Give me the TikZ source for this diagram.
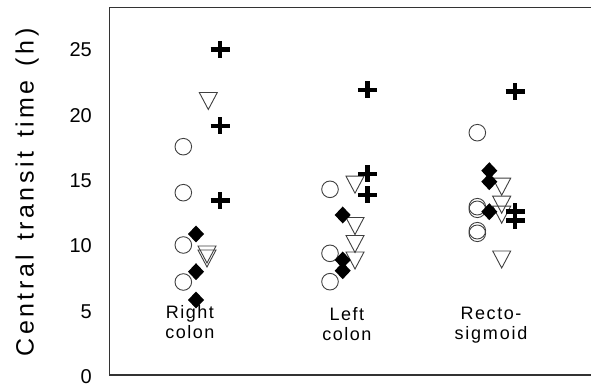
\documentclass[tikz,border=0pt]{standalone}
\usepackage{fontspec}
\setmainfont{Liberation Sans}
\makeatletter
\newcommand\lsp[2]{\def\lsp@k{#1}\lsp@a#2\relax\unkern}
\def\lsp@a#1{\ifx#1\relax\else#1\kern\lsp@k\expandafter\lsp@a\fi}
\makeatother
\begin{document}
\begin{tikzpicture}[x=1pt,y=-1pt,
  frame/.style={draw=black!80,line width=1.2pt},
  ticklab/.style={anchor=east,inner sep=0pt,font=\fontsize{20}{22}\selectfont},
  catlab/.style={anchor=base,inner sep=0pt,align=center,font=\fontsize{18}{20}\selectfont},
  pics/ocirc/.style={code={\draw[black!75,line width=0.9pt] (0,0) circle[radius=8.3pt];}},
  pics/otri/.style={code={\draw[black!75,line width=0.9pt,line join=miter] (-9,-8.5) -- (9,-8.5) -- (0,8.5) -- cycle;}},
  pics/fdiam/.style={code={\fill[black] (-8,0) -- (0,-8.5) -- (8,0) -- (0,8.5) -- cycle;}},
  pics/bplus/.style={code={\draw[black,line width=4.5pt] (-9.5,0) -- (9.5,0) (0,-8.5) -- (0,8.5);}}
]
\useasboundingbox (0,0) rectangle (591,387);
\fill[white] (0,0) rectangle (591,387);
% frame
\draw[frame] (594,7.5) -- (109.5,7.5) -- (109.5,375) -- (594,375);
% axis title
\node[rotate=90,anchor=base,inner sep=0pt,font=\fontsize{25}{30}\selectfont] (title) at (33.5,192.5) {\lsp{3.5pt}{Central\ transit\ time\ (h)}};
% tick labels
\foreach \v in {0,5,...,25}
  \node[ticklab] (t\v) at (92,{376.8-13.08*\v}) {\v};
% category labels
\node[catlab] (right) at (190,338) {\lsp{1.5pt}{Right}\\\lsp{1.5pt}{colon}};
\node[catlab] (left) at (347,340) {\lsp{1.5pt}{Left}\\\lsp{1.5pt}{colon}};
\node[catlab] (recto) at (491,339) {\lsp{1.5pt}{Recto-}\\\lsp{1.8pt}{sigmoid}};
% circles
\foreach \p in {(183.3,146.7),(183.3,192.7),(183.3,245),(183.3,282),
                (330,189.3),(330,253.3),(330,281.7),
                (477.3,132.7),(477.3,206.7),(477.3,209.3),(477.3,230.7),(477.3,233.3)}
  \pic at \p {ocirc};
% triangles
\foreach \p in {(208.3,101),(207,254.5),(207,258.5),
                (355,184.7),(355,226),(355,244),(355,260.5),
                (501.7,186.7),(501.7,204.7),(501.7,214.7),(501.7,259.5)}
  \pic at \p {otri};
% diamonds
\foreach \p in {(196,234),(196,271.7),(196,300),
                (342.7,215),(342.7,260),(342.7,270.7),
                (489.3,170.7),(489.3,181.7),(489.3,211.7)}
  \pic at \p {fdiam};
% plus
\foreach \p in {(220,49.3),(220,126),(220,200.7),
                (367.3,90),(367.3,174),(367.3,195),
                (515,91.7),(515,211.7),(515,220.7)}
  \pic at \p {bplus};
\end{tikzpicture}
\end{document}
